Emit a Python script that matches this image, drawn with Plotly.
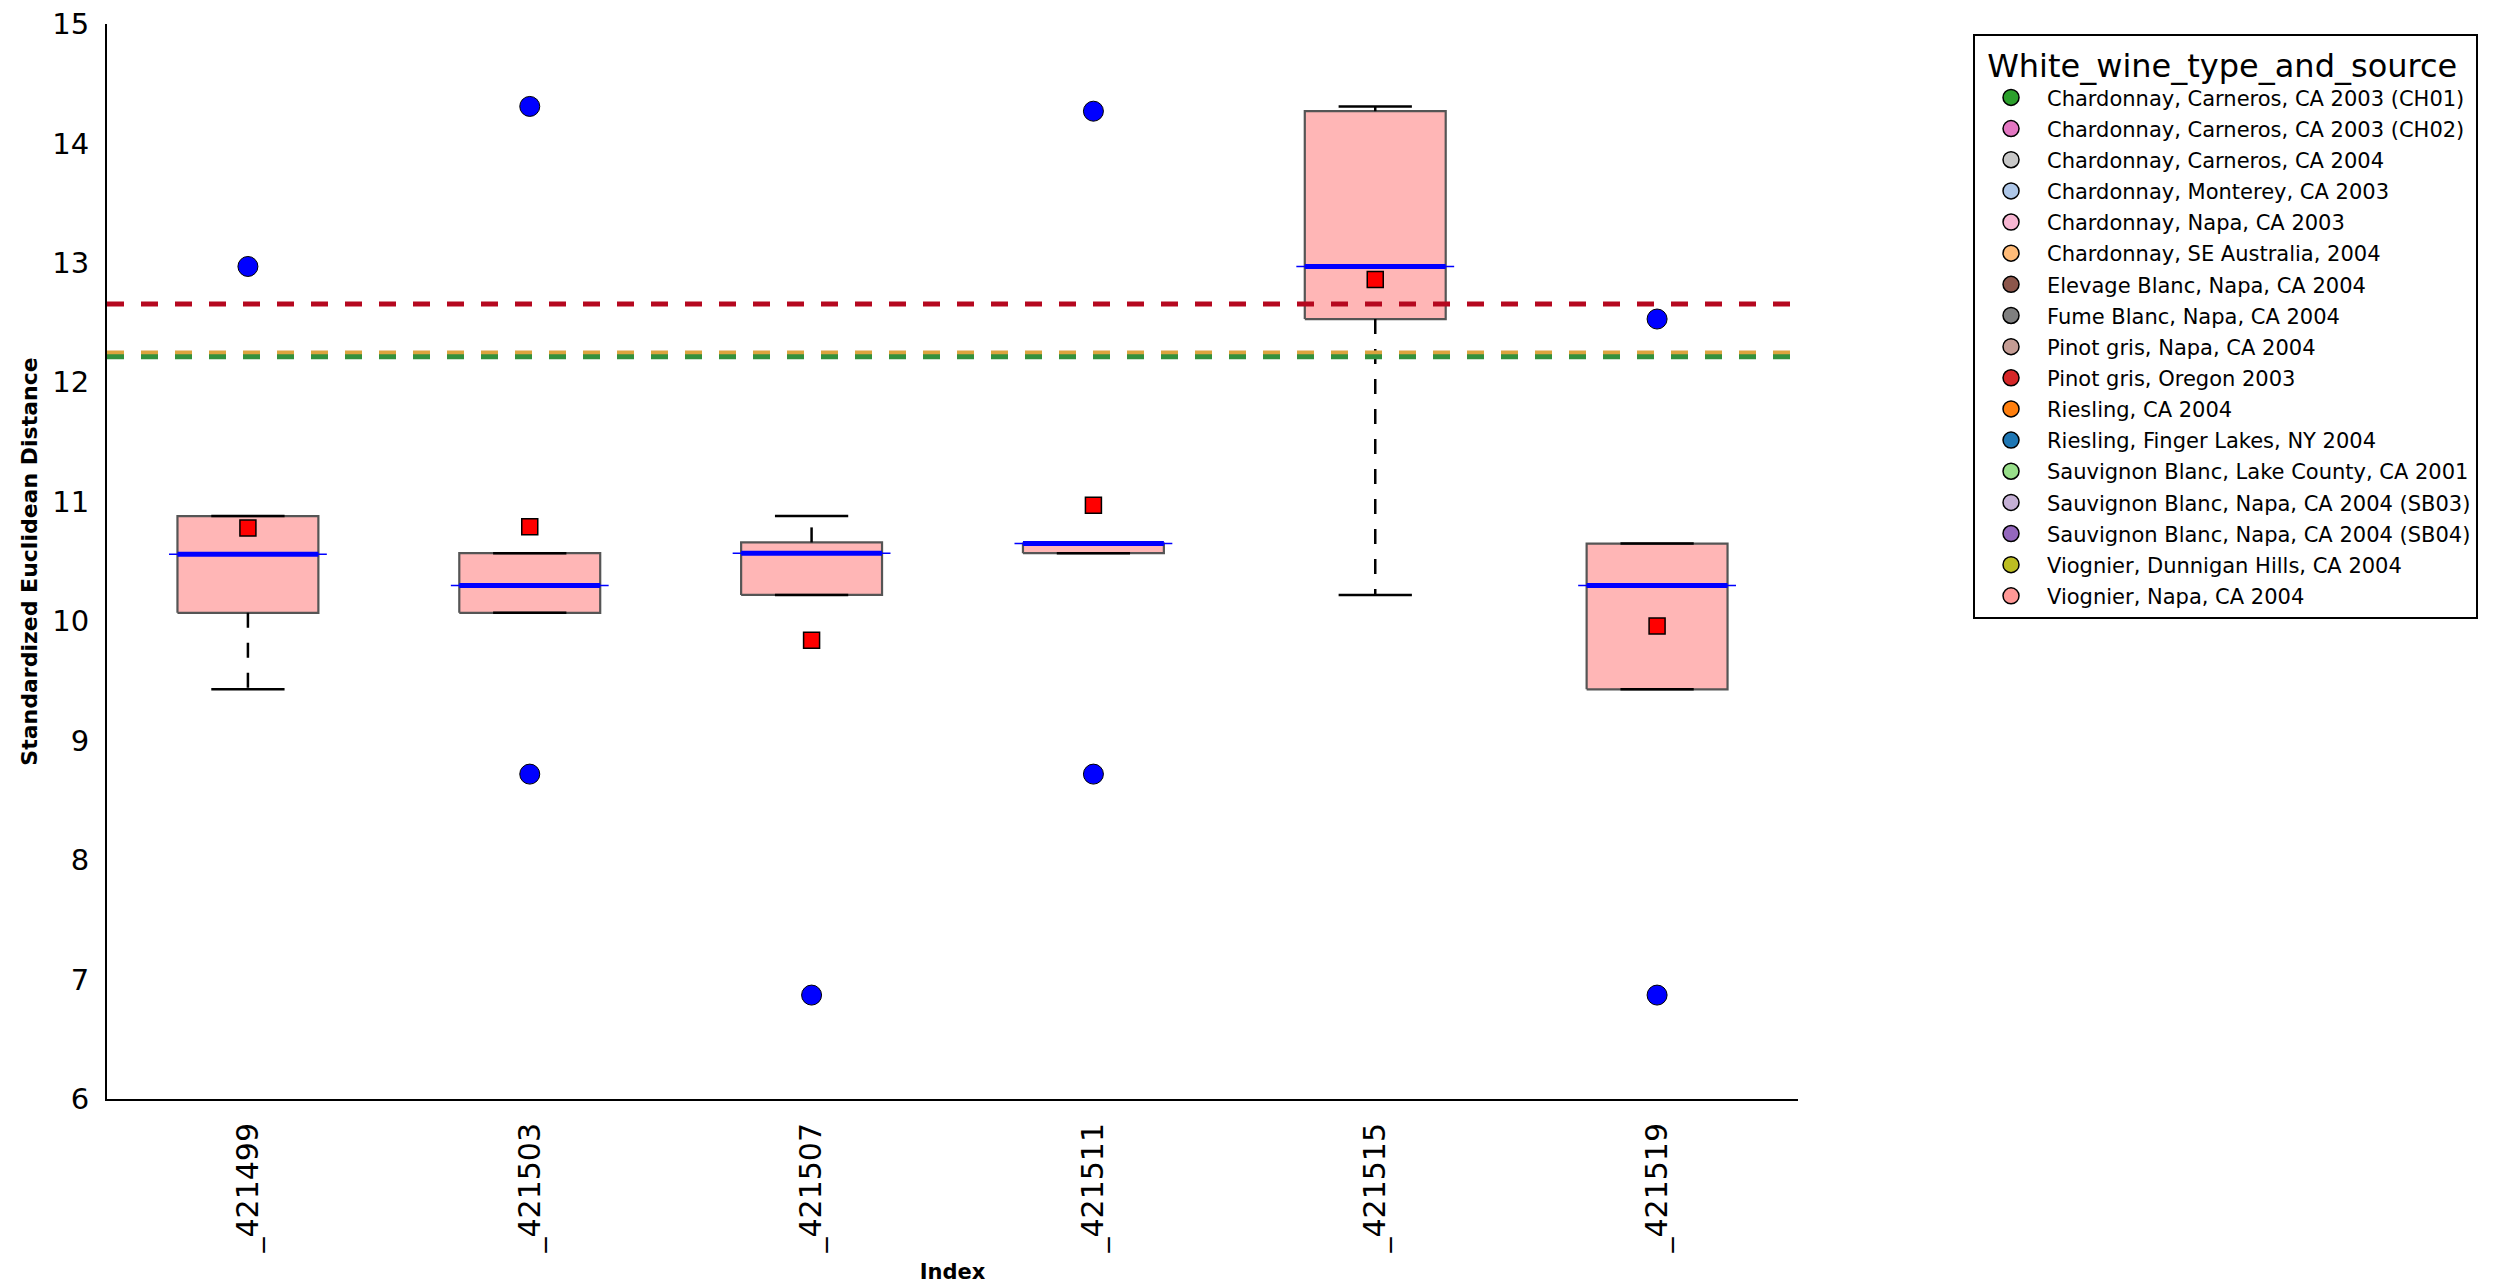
import plotly.graph_objects as go

# ---------------- data ----------------
categories = ["_421499", "_421503", "_421507", "_421511", "_421515", "_421519"]
q1_vals = [10.07, 10.07, 10.22, 10.57, 12.53, 9.43]
median_vals = [10.56, 10.30, 10.57, 10.65, 12.97, 10.30]
q3_vals = [10.88, 10.57, 10.66, 10.65, 14.27, 10.65]
whisker_low = [9.43, 10.07, 10.22, 10.57, 10.22, 9.43]
whisker_high = [10.88, 10.57, 10.88, 10.65, 14.31, 10.65]
mean_vals = [10.78, 10.79, 9.84, 10.97, 12.86, 9.96]
flier_vals = [[12.97], [14.31, 8.72], [6.87], [14.27, 8.72], [], [12.53, 6.87]]

ref_line_names = ["Pinot gris, Oregon 2003", "Riesling, CA 2004",
                  "Chardonnay, Carneros, CA 2003 (CH01)"]
ref_line_values = [12.655, 12.245, 12.215]
ref_line_colors = ["#b5081f", "#dca43e", "#33913d"]

legend_labels = [
    "Chardonnay, Carneros, CA 2003 (CH01)",
    "Chardonnay, Carneros, CA 2003 (CH02)",
    "Chardonnay, Carneros, CA 2004",
    "Chardonnay, Monterey, CA 2003",
    "Chardonnay, Napa, CA 2003",
    "Chardonnay, SE Australia, 2004",
    "Elevage Blanc, Napa, CA 2004",
    "Fume Blanc, Napa, CA 2004",
    "Pinot gris, Napa, CA 2004",
    "Pinot gris, Oregon 2003",
    "Riesling, CA 2004",
    "Riesling, Finger Lakes, NY 2004",
    "Sauvignon Blanc, Lake County, CA 2001",
    "Sauvignon Blanc, Napa, CA 2004 (SB03)",
    "Sauvignon Blanc, Napa, CA 2004 (SB04)",
    "Viognier, Dunnigan Hills, CA 2004",
    "Viognier, Napa, CA 2004",
]
legend_colors = [
    "#2ca02c", "#e377c2", "#c7c7c7", "#aec7e8", "#f7b6d2", "#ffbb78",
    "#8c564b", "#7f7f7f", "#c49c94", "#d62728", "#ff7f0e", "#1f77b4",
    "#98df8a", "#c5b0d5", "#9467bd", "#bcbd22", "#ff9896",
]

# ---------------- style ----------------
BOX_HALF = 0.25
CAP_HALF = 0.13
MED_HALF = 0.28
FONT = "DejaVu Sans"

fig = go.Figure()
positions = list(range(len(categories)))

# boxes
for i, lo, hi in zip(positions, q1_vals, q3_vals):
    fig.add_trace(go.Scatter(
        x=[i - BOX_HALF, i + BOX_HALF, i + BOX_HALF, i - BOX_HALF, i - BOX_HALF],
        y=[lo, lo, hi, hi, lo], mode="lines", fill="toself",
        fillcolor="#ffb6b6", line=dict(color="#555555", width=2.2),
        showlegend=False, hoverinfo="skip"))

# whiskers (dashed) and caps
for i, lo, hi, wl, wh in zip(positions, q1_vals, q3_vals, whisker_low, whisker_high):
    for a, b in ((lo, wl), (hi, wh)):
        if abs(a - b) > 1e-9:
            fig.add_trace(go.Scatter(
                x=[i, i], y=[a, b], mode="lines",
                line=dict(color="black", width=2.5, dash="15px,15px"),
                showlegend=False, hoverinfo="skip"))
    for w in (wl, wh):
        fig.add_trace(go.Scatter(
            x=[i - CAP_HALF, i + CAP_HALF], y=[w, w], mode="lines",
            line=dict(color="black", width=2.5),
            showlegend=False, hoverinfo="skip"))

# medians
for i, m in zip(positions, median_vals):
    fig.add_trace(go.Scatter(
        x=[i - MED_HALF, i + MED_HALF], y=[m, m], mode="lines",
        line=dict(color="#0000ff", width=1.5), showlegend=False, hoverinfo="skip"))
    fig.add_trace(go.Scatter(
        x=[i - BOX_HALF, i + BOX_HALF], y=[m, m], mode="lines",
        line=dict(color="#0000ff", width=5), showlegend=False, hoverinfo="skip"))

# reference dashed lines
for name, v, c in zip(ref_line_names, ref_line_values, ref_line_colors):
    fig.add_trace(go.Scatter(
        x=[-0.5, len(categories) - 0.5], y=[v, v], mode="lines",
        line=dict(color=c, width=5, dash="17px,17px"),
        name=name, showlegend=False, hoverinfo="skip"))

# means
fig.add_trace(go.Scatter(
    x=positions, y=mean_vals, mode="markers",
    marker=dict(symbol="square", size=16, color="#ff0000",
                line=dict(color="black", width=1.5)),
    showlegend=False, hoverinfo="skip"))

# fliers
fx, fy = [], []
for i, vals in zip(positions, flier_vals):
    for v in vals:
        fx.append(i)
        fy.append(v)
fig.add_trace(go.Scatter(
    x=fx, y=fy, mode="markers",
    marker=dict(symbol="circle", size=20, color="#0000ff",
                line=dict(color="black", width=1)),
    showlegend=False, hoverinfo="skip"))

# legend entries
for lab, col in zip(legend_labels, legend_colors):
    fig.add_trace(go.Scatter(
        x=[None], y=[None], mode="markers", name=lab, legendgroup=lab,
        marker=dict(symbol="circle", size=16, color=col,
                    line=dict(color="black", width=1.5)),
        showlegend=True))

fig.update_layout(
    width=2501, height=1287,
    margin=dict(l=107, r=703, t=24, b=188, autoexpand=False),
    plot_bgcolor="white", paper_bgcolor="white",
    font=dict(family=FONT, color="black"),
    showlegend=True,
    legend=dict(
        x=1.1035, y=0.991, xanchor="left", yanchor="top",
        bordercolor="black", borderwidth=2, bgcolor="white",
        font=dict(size=21, family=FONT),
        title=dict(text="&nbsp;White_wine_type_and_source", font=dict(size=32, family=FONT)),
        tracegroupgap=0.85, itemsizing="trace", itemwidth=62),
)
fig.update_xaxes(
    range=[-0.5, len(categories) - 0.5],
    tickmode="array", tickvals=positions, ticktext=categories,
    tickangle=-90, tickfont=dict(size=30, family=FONT),
    showline=True, linecolor="black", linewidth=2, ticks="",
    showgrid=False, zeroline=False, ticklabelstandoff=10,
    title=dict(text="Index", font=dict(size=21, family=FONT, weight="bold"), standoff=12),
)
fig.update_yaxes(
    range=[6, 15], tickmode="array", tickvals=list(range(6, 16)),
    tickfont=dict(size=29, family=FONT),
    showline=True, linecolor="black", linewidth=2, ticks="",
    showgrid=False, zeroline=False, ticklabelstandoff=10,
    title=dict(text="Standardized Euclidean Distance",
               font=dict(size=22, family=FONT, weight="bold"), standoff=9),
)

fig.write_html("out.html", config={"displayModeBar": False},
               post_script="document.body.style.margin='0';document.body.style.overflow='hidden';")
